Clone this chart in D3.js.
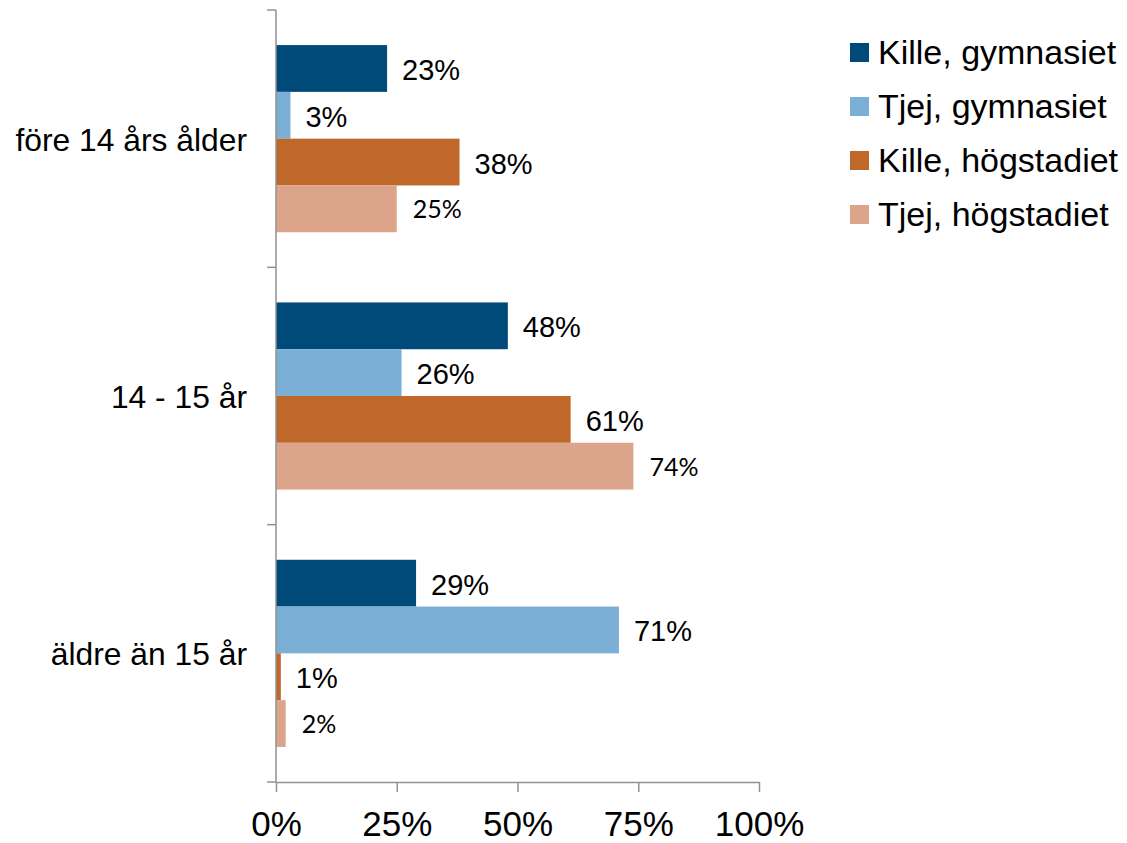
<!DOCTYPE html>
<html>
<head>
<meta charset="utf-8">
<script src="https://cdn.jsdelivr.net/npm/d3@7"></script>
<style>
  html, body { margin: 0; padding: 0; background: #fff; }
  svg { display: block; }
</style>
</head>
<body>
<svg id="chart" width="1127" height="843"></svg>
<script>
const categories = ["före 14 års ålder", "14 - 15 år", "äldre än 15 år"];
const seriesNames = ["Kille, gymnasiet", "Tjej, gymnasiet", "Kille, högstadiet", "Tjej, högstadiet"];
const killeGymnasiet = [0.23, 0.48, 0.29];
const tjejGymnasiet = [0.03, 0.26, 0.71];
const killeHogstadiet = [0.38, 0.61, 0.01];
const tjejHogstadiet = [0.25, 0.74, 0.02];
const xTicks = [0, 0.25, 0.5, 0.75, 1];
const colors = ["#004A7A", "#7BAFD6", "#C0672A", "#DCA58B"];

const seriesValues = [killeGymnasiet, tjejGymnasiet, killeHogstadiet, tjejHogstadiet];

const svg = d3.select("#chart");
const axisColor = "#929292";
const mainFont = "'Liberation Sans', Arial, sans-serif";

const x = d3.scaleLinear().domain([0, 1]).range([276, 759]);
const y0 = d3.scaleBand().domain(categories).range([10, 782]).padding(0);
const y1 = d3.scaleBand().domain(seriesNames).range([0, y0.bandwidth()]).paddingInner(0).paddingOuter(0.75);
const color = d3.scaleOrdinal().domain(seriesNames).range(colors);

// data rows
const rows = [];
categories.forEach((c, ci) => {
  seriesNames.forEach((s, si) => {
    rows.push({ cat: c, series: s, si: si, value: seriesValues[si][ci] });
  });
});

// bars
svg.append("g").selectAll("rect")
  .data(rows)
  .join("rect")
  .attr("x", x(0))
  .attr("y", d => y0(d.cat) + y1(d.series))
  .attr("width", d => x(d.value) - x(0))
  .attr("height", y1.bandwidth())
  .attr("fill", d => color(d.series));

// value labels
svg.append("g").selectAll("text")
  .data(rows)
  .join("text")
  .attr("x", d => x(d.value) + (d.si === 3 ? 16 : 15))
  .attr("y", d => y0(d.cat) + y1(d.series) + y1.bandwidth() / 2 + (d.si === 3 ? 9.5 : 11.5))
  .attr("font-family", d => d.si === 3 ? "Lato, 'Open Sans', sans-serif" : mainFont)
  .attr("font-size", d => d.si === 3 ? 25 : 29)
  .attr("fill", "#000")
  .text(d => d3.format(".0%")(d.value));

// x axis
const xAxis = svg.append("g")
  .attr("transform", `translate(0,${782})`)
  .call(d3.axisBottom(x).tickValues(xTicks).tickFormat(d3.format(".0%")).tickSize(10).tickSizeOuter(0));
xAxis.select(".domain").attr("stroke", axisColor).attr("stroke-width", 1.5);
xAxis.selectAll(".tick line").attr("stroke", axisColor).attr("stroke-width", 1.5);
xAxis.selectAll(".tick text")
  .attr("y", 54).attr("dy", 0)
  .attr("font-family", mainFont)
  .attr("font-size", 35)
  .attr("fill", "#000");

// y axis line and boundary ticks
const boundaries = categories.map(c => y0(c)).concat([y0.range()[1]]);
const yAxis = svg.append("g");
yAxis.append("line")
  .attr("x1", x(0)).attr("x2", x(0))
  .attr("y1", y0.range()[0]).attr("y2", y0.range()[1])
  .attr("stroke", axisColor).attr("stroke-width", 1.5);
yAxis.selectAll("line.tk")
  .data(boundaries)
  .join("line")
  .attr("class", "tk")
  .attr("x1", x(0) - 9).attr("x2", x(0))
  .attr("y1", d => d).attr("y2", d => d)
  .attr("stroke", axisColor).attr("stroke-width", 1.5);

// category labels
svg.append("g").selectAll("text")
  .data(categories)
  .join("text")
  .attr("x", 247)
  .attr("y", d => y0(d) + y0.bandwidth() / 2 + 12)
  .attr("text-anchor", "end")
  .attr("font-family", mainFont)
  .attr("font-size", 31.8)
  .attr("fill", "#000")
  .text(d => d);

// legend
const legend = svg.append("g").selectAll("g")
  .data(seriesNames)
  .join("g")
  .attr("transform", (d, i) => `translate(850,${43 + i * 54})`);
legend.append("rect")
  .attr("width", 19).attr("height", 19)
  .attr("fill", d => color(d));
legend.append("text")
  .attr("x", 28).attr("y", 21)
  .attr("font-family", mainFont)
  .attr("font-size", 34)
  .attr("fill", "#000")
  .text(d => d);
</script>
</body>
</html>
